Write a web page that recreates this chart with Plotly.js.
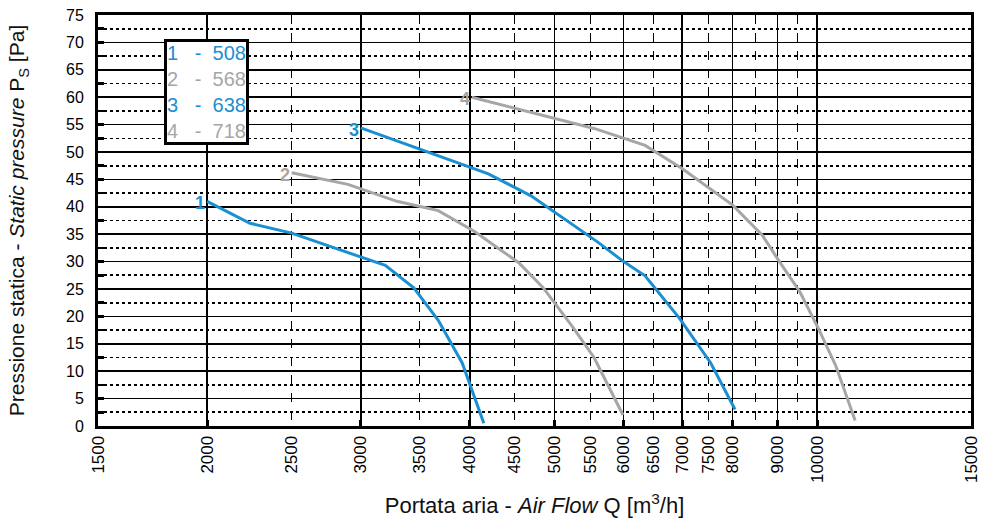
<!DOCTYPE html>
<html>
<head>
<meta charset="utf-8">
<script src="https://cdn.plot.ly/plotly-3.0.1.min.js"></script>
<style>html,body{margin:0;padding:0;background:#fff;}#chart{width:981px;height:519px;}</style>
</head>
<body>
<div id="chart"></div>
<script>
// ---- data ----
const curveNames = ["1", "2", "3", "4"];
const curveModels = ["508", "568", "638", "718"];
const curveColors = ["#1a8fd2", "#a6a6a6", "#1a8fd2", "#a6a6a6"];

const q1 = [2000, 2240, 2500, 3000, 3200, 3450, 3680, 3920, 4150];
const p1 = [41, 37, 35.2, 30.8, 29.3, 25.2, 19.3, 11.5, 0.5];

const q2 = [2500, 2900, 3300, 3680, 4050, 4550, 4850, 5250, 5550, 5990];
const p2 = [46.2, 44.1, 41, 39.3, 35.5, 29.8, 25.3, 18, 12.5, 2];

const q3 = [3000, 3800, 4200, 4700, 5000, 5600, 6000, 6350, 6950, 7550, 8050];
const p3 = [54.4, 48.5, 46, 42, 39, 33.6, 30, 27.4, 19.7, 11.5, 3];

const q4 = [4020, 5550, 6350, 7000, 8000, 8650, 9050, 9550, 10050, 10500, 11050];
const p4 = [60, 54.3, 51.2, 47, 40.3, 34.8, 30, 24.5, 17.5, 11, 1];

const xTickLabels = [1500, 2000, 2500, 3000, 3500, 4000, 4500, 5000, 5500, 6000, 6500, 7000, 7500, 8000, 9000, 10000, 15000];
const xMajorGrid = [2000, 3000, 4000, 5000, 6000, 7000, 8000, 9000, 10000];
const xMinorGrid = [2500, 3500, 4500, 5500, 6500, 7500, 8500, 9500];
const yMinorGrid = [2.5, 7.5, 12.5, 17.5, 22.5, 27.5, 32.5, 37.5, 42.5, 47.5, 52.5, 57.5, 62.5, 67.5, 72.5];

const qs = [q1, q2, q3, q4];
const ps = [p1, p2, p3, p4];

// ---- chart ----
const FONT = "Liberation Sans, Arial, sans-serif";
const traces = qs.map((q, i) => ({
  x: q, y: ps[i], type: "scatter", mode: "lines",
  xaxis: i === 3 ? "x2" : "x",
  line: {color: curveColors[i], width: 3},
  hoverinfo: "skip", showlegend: false
}));

const annotations = qs.map((q, i) => ({
  x: Math.log10(q[0]), y: ps[i][0], xref: i === 3 ? "x2" : "x", yref: "y",
  text: "<b>" + curveNames[i] + "</b>", showarrow: false,
  xanchor: "right", yanchor: "middle", xshift: 0, yshift: -2,
  font: {family: FONT, size: 18, weight: "bold", color: curveColors[i]}
}));

const SP3 = "&nbsp;&nbsp;&nbsp;";
const SP2 = "&nbsp;&nbsp;";
const legendText = curveNames.map((n, i) =>
  '<span style="color:' + curveColors[i] + '">' + n + SP3 + "-" + SP2 + curveModels[i] + "</span>"
).join("<br>");

annotations.push({
  xref: "paper", yref: "paper", x: 0.0755, y: 0.942, xanchor: "left", yanchor: "top",
  text: legendText, showarrow: false, align: "left",
  bgcolor: "#ffffff", bordercolor: "#000000", borderwidth: 3, borderpad: 0,
  font: {family: FONT, size: 20}
});

const xr = [Math.log10(1500), Math.log10(15000)];

const layout = {
  width: 981, height: 519,
  margin: {l: 98, r: 10, t: 15, b: 93},
  paper_bgcolor: "#ffffff", plot_bgcolor: "#ffffff",
  font: {family: FONT, size: 16, color: "#000"},
  xaxis: {
    type: "log", range: xr, tickmode: "array", tickvals: xTickLabels,
    ticktext: xTickLabels.map(String), tickangle: -90,
    tickfont: {family: FONT, size: 17, color: "#000"},
    showgrid: false, zeroline: false, ticks: "",
    showline: true, linecolor: "#000", linewidth: 3, mirror: true,
    minor: {tickmode: "array", tickvals: xMinorGrid, showgrid: true, gridcolor: "#000", gridwidth: 1, griddash: "dash", ticks: ""},
    title: {text: "Portata aria - <i>Air Flow</i> Q [m<sup>3</sup>/h]", font: {family: FONT, size: 22, color: "#111"}, standoff: 16}
  },
  xaxis2: {
    type: "log", range: xr, overlaying: "x", anchor: "y", side: "bottom",
    tickmode: "array", tickvals: xMajorGrid, showticklabels: false,
    showgrid: true, gridcolor: "#000", gridwidth: 1.6, zeroline: false,
    ticks: "inside", ticklen: 6, tickwidth: 3, tickcolor: "#000", showline: false
  },
  yaxis: {
    range: [0, 75], tickmode: "linear", tick0: 0, dtick: 5,
    tickfont: {family: FONT, size: 16, color: "#000"},
    ticklabelstandoff: 8,
    showgrid: true, gridcolor: "#000", gridwidth: 1.6, zeroline: false,
    ticks: "inside", ticklen: 6, tickwidth: 2.5, tickcolor: "#000",
    showline: true, linecolor: "#000", linewidth: 3, mirror: true,
    minor: {tickmode: "array", tickvals: yMinorGrid, showgrid: true, gridcolor: "#000", gridwidth: 1.6, griddash: "dot", ticks: "inside", ticklen: 6, tickwidth: 2.5, tickcolor: "#000"},
    title: {text: "Pressione statica - <i>Static pressure</i> P<sub>S</sub> [Pa]", font: {family: FONT, size: 21, color: "#111"}, standoff: 36}
  },
  annotations: annotations
};

Plotly.newPlot("chart", traces, layout, {staticPlot: true, displayModeBar: false});
</script>
</body>
</html>
